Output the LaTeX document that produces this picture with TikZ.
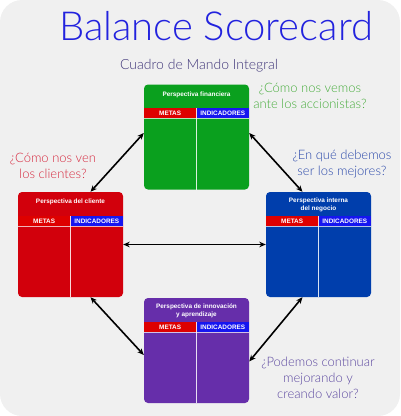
\documentclass[tikz,border=0pt]{standalone}
\usepackage{fontspec}
\setmainfont{Lato}
\IfFontExistsTF{Lato Light}{\newfontfamily\thinfont{Lato Light}}{\newfontfamily\thinfont{Lato}}
\newfontfamily\boxfont{Liberation Sans}
\usetikzlibrary{arrows.meta, positioning, calc}

\definecolor{bggray}{RGB}{240,240,240}
\definecolor{titleblue}{RGB}{34,34,222}
\definecolor{subnavy}{RGB}{62,52,120}
\definecolor{qgreen}{RGB}{70,172,60}
\definecolor{qred}{RGB}{214,40,62}
\definecolor{qblue}{RGB}{42,72,170}
\definecolor{qpurple}{RGB}{92,72,160}
\definecolor{fingreen}{RGB}{10,160,30}
\definecolor{clired}{RGB}{210,0,12}
\definecolor{intblue}{RGB}{0,62,172}
\definecolor{innpurple}{RGB}{102,46,170}
\definecolor{metasred}{RGB}{222,0,0}
\definecolor{indblue}{RGB}{22,22,240}

\begin{document}
\begin{tikzpicture}[x=1pt, y=-1pt,
    persp/.style={rectangle, rounded corners=4pt, inner sep=0pt,
                  minimum width=105pt, minimum height=105pt},
    link/.style={{Stealth[length=6.5pt,width=5.5pt]}-{Stealth[length=6.5pt,width=5.5pt]},
                 line width=1.6pt},
    quest/.style={align=center, font=\thinfont\fontsize{13}{16}\selectfont},
    head/.style={text=white, align=center, inner sep=0pt,
                 font=\boxfont\bfseries\fontsize{6.4}{8}\selectfont}]
  % Background
  \fill[bggray, rounded corners=22pt] (0,0) rectangle (400,416);
  \useasboundingbox (0,0) rectangle (400,416);
  % Titles
  \node[font=\thinfont\fontsize{40}{44}\selectfont, text=titleblue, anchor=base]
       (title) at (216,40) {Balance Scorecard};
  \node[font=\thinfont\fontsize{14}{16}\selectfont, text=subnavy, anchor=base]
       (subtitle) at (199,69) {Cuadro de Mando Integral};
  % Perspectives
  \node[persp, fill=fingreen]  (fin) at (196.5,137) {};
  \node[persp, fill=clired]    (cli) at (70.5,244.5) {};
  \node[persp, fill=intblue]   (int) at (318.5,244.5) {};
  \node[persp, fill=innpurple] (inn) at (196.5,350.5) {};
  \foreach \n in {fin,cli,int,inn}{
    \fill[metasred] ($(\n.north west)+(0,24)$) rectangle ($(\n.north)+(0,34)$);
    \fill[indblue]  ($(\n.north)+(0,24)$) rectangle ($(\n.north east)+(0,34)$);
    \draw[white, opacity=0.7, line width=0.6pt]
      ($(\n.north west)+(0,34)$) -- ($(\n.north east)+(0,34)$);
    \draw[white, opacity=0.85, line width=0.8pt] ($(\n.north)+(0,24)$) -- (\n.south);
    \node[head] at ($(\n.north west)!0.5!(\n.north)+(0,29)$) {METAS};
    \node[head] at ($(\n.north)!0.5!(\n.north east)+(0,29)$) {INDICADORES};
  }
  \node[head] at ($(fin.north)+(0,11)$) {Perspectiva financiera};
  \node[head] at ($(cli.north)+(0,10)$) {Perspectiva del cliente};
  \node[head] at ($(int.north)+(0,13)$) {Perspectiva interna\\del negocio};
  \node[head] at ($(inn.north)+(0,13)$) {Perspectiva de innovación\\y aprendizaje};
  % Questions
  \node[quest, text=qgreen]  (qfin) at (310,96)    {¿Cómo nos vemos\\ante los accionistas?};
  \node[quest, text=qred]    (qcli) at (53,166)    {¿Cómo nos ven\\los clientes?};
  \node[quest, text=qblue]   (qint) at (342,163.5) {¿En qué debemos\\ser los mejores?};
  \node[quest, text=qpurple] (qinn) at (318,378)   {¿Podemos continuar\\mejorando y\\creando valor?};
  % Links
  \draw[link] ([yshift=4pt]fin.west) -- ([xshift=20pt]cli.north);
  \draw[link] ([yshift=4pt]fin.east) -- ([xshift=-16pt]int.north);
  \draw[link] ([xshift=20pt]cli.south) -- ([yshift=-4.5pt]inn.west);
  \draw[link] ([xshift=-16pt]int.south) -- ([yshift=-11pt]inn.east);
  \draw[link] (cli) -- (int);
\end{tikzpicture}
\end{document}
